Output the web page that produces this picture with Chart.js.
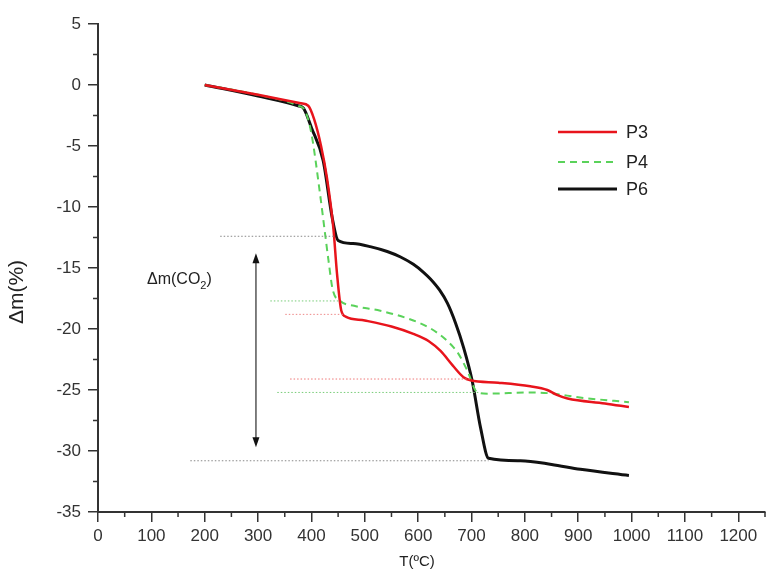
<!DOCTYPE html>
<html>
<head>
<meta charset="utf-8">
<script src="https://cdn.jsdelivr.net/npm/chart.js"></script>
<style>
  body { margin: 0; background: #fff; }
  canvas { display: block; }
</style>
</head>
<body>
<canvas id="myChart" width="769" height="576"></canvas>
<script>
// data: temperature (ºC) vs mass change (%)
const p3T = [200, 300, 380, 394, 405, 418, 429, 441, 448, 456, 465, 500, 550, 591, 620, 642, 665, 685, 698, 750, 810, 842, 860, 880, 950, 995]
const p3M = [0, -0.8, -1.5, -1.7, -2.8, -5, -7.6, -11.7, -15.5, -18.5, -19.0, -19.3, -19.8, -20.4, -21.0, -21.8, -23.0, -23.95, -24.2, -24.4, -24.7, -25.0, -25.4, -25.7, -26.1, -26.4]

const p4T = [200, 300, 375, 388, 400, 416, 425, 432, 440, 454, 480, 529, 591, 625, 655, 675, 692, 711, 730, 810, 854, 900, 995]
const p4M = [0, -0.8, -1.7, -2.1, -4, -8.9, -12, -14.4, -16.8, -17.7, -18.1, -18.5, -19.3, -20.0, -21.0, -22.0, -23.4, -25.2, -25.3, -25.2, -25.3, -25.6, -26.0]

const p6T = [200, 300, 375, 385, 400, 422, 439, 450, 478, 510, 542, 567, 591, 610, 623, 640, 655, 670, 685, 701, 717, 732, 792, 850, 904, 995]
const p6M = [0, -0.9, -1.7, -1.9, -3.5, -6.2, -10.9, -12.75, -13.0, -13.25, -13.65, -14.1, -14.7, -15.35, -15.9, -16.8, -17.9, -19.5, -21.5, -24.2, -28.1, -30.6, -30.8, -31.1, -31.5, -32.0]

const seriesNames = ['P3', 'P4', 'P6']
const xTicks = [0, 100, 200, 300, 400, 500, 600, 700, 800, 900, 1000, 1100, 1200]
const yTicks = [-35, -30, -25, -20, -15, -10, -5, 0, 5]

// dotted guide lines: level, from T, to T
const refY = [-12.4, -17.7, -18.8, -24.1, -25.2, -30.8]
const refFrom = [229, 323, 351, 360, 336, 173]
const refTo = [445, 454, 460, 698, 716, 732]
const refColor = ['#888', '#7c7', '#e88', '#e77', '#7c7', '#888']

// double arrow for the CO2 loss
const arrowT = 296
const arrowTop = -13.8
const arrowBottom = -29.7

const toPoints = (xs, ys) => xs.map((x, i) => ({ x: x, y: ys[i] }))

const colors = ['rgb(232,20,28)', 'rgb(90,210,90)', '#111']
const dashes = [[], [7, 5], []]
const widths = [2.5, 2, 3]

const extras = {
  id: 'extras',
  afterDatasetsDraw(chart) {
    const ctx = chart.ctx
    const xs = chart.scales.x
    const ys = chart.scales.y
    const area = chart.chartArea
    ctx.save()

    // minor ticks
    ctx.strokeStyle = '#333'
    ctx.lineWidth = 1.5
    ctx.beginPath()
    for (let v = 50; v <= 1250; v += 100) {
      const px = xs.getPixelForValue(v)
      ctx.moveTo(px, area.bottom)
      ctx.lineTo(px, area.bottom + 5)
    }
    for (let v = -32.5; v < 5; v += 5) {
      const py = ys.getPixelForValue(v)
      ctx.moveTo(area.left, py)
      ctx.lineTo(area.left - 5, py)
    }
    ctx.stroke()

    // dotted guides
    ctx.lineWidth = 1
    ctx.setLineDash([1.5, 2])
    refY.forEach((y, i) => {
      const py = ys.getPixelForValue(y)
      ctx.strokeStyle = refColor[i]
      ctx.beginPath()
      ctx.moveTo(xs.getPixelForValue(refFrom[i]), py)
      ctx.lineTo(xs.getPixelForValue(refTo[i]), py)
      ctx.stroke()
    })
    ctx.setLineDash([])

    // arrow
    const ax = xs.getPixelForValue(arrowT)
    const at = ys.getPixelForValue(arrowTop)
    const ab = ys.getPixelForValue(arrowBottom)
    ctx.strokeStyle = '#555'
    ctx.fillStyle = '#111'
    ctx.lineWidth = 1.5
    ctx.beginPath()
    ctx.moveTo(ax, at + 6)
    ctx.lineTo(ax, ab - 6)
    ctx.stroke()
    ctx.beginPath()
    ctx.moveTo(ax, at)
    ctx.lineTo(ax - 3.5, at + 10)
    ctx.lineTo(ax + 3.5, at + 10)
    ctx.closePath()
    ctx.fill()
    ctx.beginPath()
    ctx.moveTo(ax, ab)
    ctx.lineTo(ax - 3.5, ab - 10)
    ctx.lineTo(ax + 3.5, ab - 10)
    ctx.closePath()
    ctx.fill()

    // Δm(CO2) label
    ctx.fillStyle = '#222'
    ctx.textBaseline = 'alphabetic'
    ctx.textAlign = 'left'
    ctx.font = '16px "Liberation Sans", Arial, sans-serif'
    let tx = 147
    const ty = 284
    const t1 = 'Δm(CO'
    ctx.fillText(t1, tx, ty)
    tx += ctx.measureText(t1).width
    ctx.font = '11px "Liberation Sans", Arial, sans-serif'
    ctx.fillText('2', tx, ty + 5)
    tx += ctx.measureText('2').width
    ctx.font = '16px "Liberation Sans", Arial, sans-serif'
    ctx.fillText(')', tx, ty)

    // legend
    const legY = [132, 162, 189]
    ctx.font = '18px "Liberation Sans", Arial, sans-serif'
    ctx.textBaseline = 'middle'
    seriesNames.forEach((name, i) => {
      ctx.strokeStyle = colors[i]
      ctx.lineWidth = widths[i]
      ctx.setLineDash(dashes[i])
      ctx.beginPath()
      ctx.moveTo(558, legY[i])
      ctx.lineTo(617, legY[i])
      ctx.stroke()
      ctx.setLineDash([])
      ctx.fillStyle = '#222'
      ctx.fillText(name, 626, legY[i] + 1)
    })

    // axis titles
    ctx.textAlign = 'center'
    ctx.font = '15px "Liberation Sans", Arial, sans-serif'
    ctx.fillText('T(ºC)', 417, 562)
    ctx.translate(17, 292)
    ctx.rotate(-Math.PI / 2)
    ctx.font = '21px "Liberation Sans", Arial, sans-serif'
    ctx.fillText('Δm(%)', 0, 0)

    ctx.restore()
  }
}

const ctx = document.getElementById('myChart').getContext('2d')
const myChart = new Chart(ctx, {
  type: 'line',
  data: {
    datasets: [
      { label: seriesNames[0], data: toPoints(p3T, p3M) },
      { label: seriesNames[1], data: toPoints(p4T, p4M) },
      { label: seriesNames[2], data: toPoints(p6T, p6M) }
    ].map((d, i) => Object.assign(d, {
      borderColor: colors[i],
      borderWidth: widths[i],
      borderDash: dashes[i],
      pointRadius: 0,
      fill: false,
      cubicInterpolationMode: 'monotone'
    }))
  },
  options: {
    responsive: false,
    animation: false,
    devicePixelRatio: 1,
    layout: { padding: { top: 24, right: 4, left: 0, bottom: 0 } },
    plugins: {
      legend: { display: false },
      tooltip: { enabled: false }
    },
    scales: {
      x: {
        type: 'linear',
        min: 0,
        max: 1250,
        afterBuildTicks: (s) => { s.ticks = xTicks.map(v => ({ value: v })) },
        afterFit: (s) => { s.height = 64 },
        grid: { display: true, drawOnChartArea: false, drawTicks: true, tickLength: 10, color: '#333', lineWidth: 1.5 },
        border: { display: true, color: '#333', width: 2 },
        ticks: { color: '#333', padding: 4, maxRotation: 0, callback: (v) => String(v), font: { family: '"Liberation Sans", Arial, sans-serif', size: 17 } }
      },
      y: {
        type: 'linear',
        min: -35,
        max: 5,
        afterBuildTicks: (s) => { s.ticks = yTicks.map(v => ({ value: v })) },
        afterFit: (s) => { s.width = 98 },
        grid: { display: true, drawOnChartArea: false, drawTicks: true, tickLength: 10, color: '#333', lineWidth: 1.5 },
        border: { display: true, color: '#333', width: 2 },
        ticks: { color: '#333', padding: 7, callback: (v) => String(v), font: { family: '"Liberation Sans", Arial, sans-serif', size: 17 } }
      }
    }
  },
  plugins: [extras]
})
</script>
</body>
</html>
